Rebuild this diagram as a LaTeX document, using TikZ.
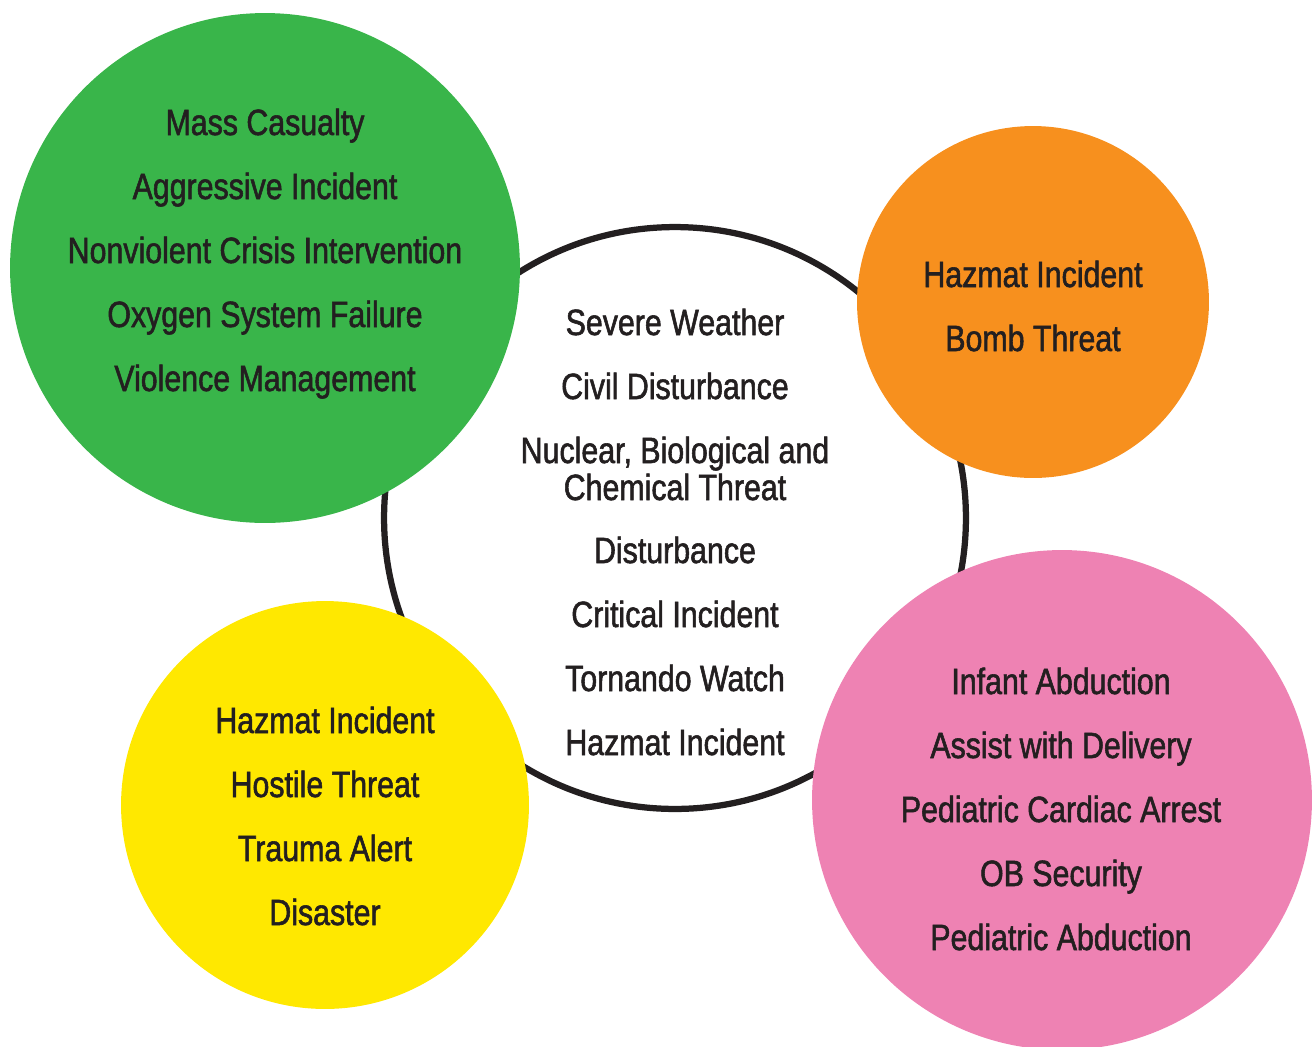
\documentclass[tikz,border=0pt]{standalone}
\usepackage{fontspec}
\setmainfont{Liberation Sans}[FakeStretch=0.83,FakeBold=1.5]
\usepackage{xcolor}
\definecolor{inkdark}{HTML}{231F20}
\definecolor{bubblegreen}{HTML}{39B54A}
\definecolor{bubbleorange}{HTML}{F7901E}
\definecolor{bubbleyellow}{HTML}{FFE800}
\definecolor{bubblepink}{HTML}{EE82B3}
\tikzset{
  bubble/.style={circle, inner sep=0pt, outer sep=0pt},
  codeline/.style={text=inkdark, anchor=base, inner sep=0pt, font=\fontsize{20.8}{21}\selectfont}
}

\begin{document}
\begin{tikzpicture}[x=0.02cm, y=-0.02cm]
  \useasboundingbox (0,0) rectangle (1313,1046);
  \node[bubble, draw=inkdark, line width=0.125cm, fill=white, minimum size=11.64cm] (core) at (675,518) {};
  \node[bubble, fill=bubblegreen, minimum size=10.2cm] (green) at (265,268) {};
  \node[bubble, fill=bubbleorange, minimum size=7.04cm] (orange) at (1033,302) {};
  \node[bubble, fill=bubbleyellow, minimum size=8.16cm] (yellow) at (325,805) {};
  \node[bubble, fill=bubblepink, minimum size=10cm] (pink) at (1062,800) {};

  \node[codeline] (core1) at (675,335) {Severe Weather};
  \node[codeline] (core2) at (675,399) {Civil Disturbance};
  \node[codeline] (core3) at (675,463) {Nuclear, Biological and};
  \node[codeline] (core4) at (675,500) {Chemical Threat};
  \node[codeline] (core5) at (675,563) {Disturbance};
  \node[codeline] (core6) at (675,627) {Critical Incident};
  \node[codeline] (core7) at (675,691) {Tornando Watch};
  \node[codeline] (core8) at (675,755) {Hazmat Incident};

  \node[codeline] (green1) at (265,135) {Mass Casualty};
  \node[codeline] (green2) at (265,199) {Aggressive Incident};
  \node[codeline] (green3) at (265,263) {Nonviolent Crisis Intervention};
  \node[codeline] (green4) at (265,327) {Oxygen System Failure};
  \node[codeline] (green5) at (265,391) {Violence Management};

  \node[codeline] (orange1) at (1033,287) {Hazmat Incident};
  \node[codeline] (orange2) at (1033,351) {Bomb Threat};

  \node[codeline] (yellow1) at (325,733) {Hazmat Incident};
  \node[codeline] (yellow2) at (325,797) {Hostile Threat};
  \node[codeline] (yellow3) at (325,861) {Trauma Alert};
  \node[codeline] (yellow4) at (325,925) {Disaster};

  \node[codeline] (pink1) at (1061,694) {Infant Abduction};
  \node[codeline] (pink2) at (1061,758) {Assist with Delivery};
  \node[codeline] (pink3) at (1061,822) {Pediatric Cardiac Arrest};
  \node[codeline] (pink4) at (1061,886) {OB Security};
  \node[codeline] (pink5) at (1061,950) {Pediatric Abduction};
\end{tikzpicture}
\end{document}
